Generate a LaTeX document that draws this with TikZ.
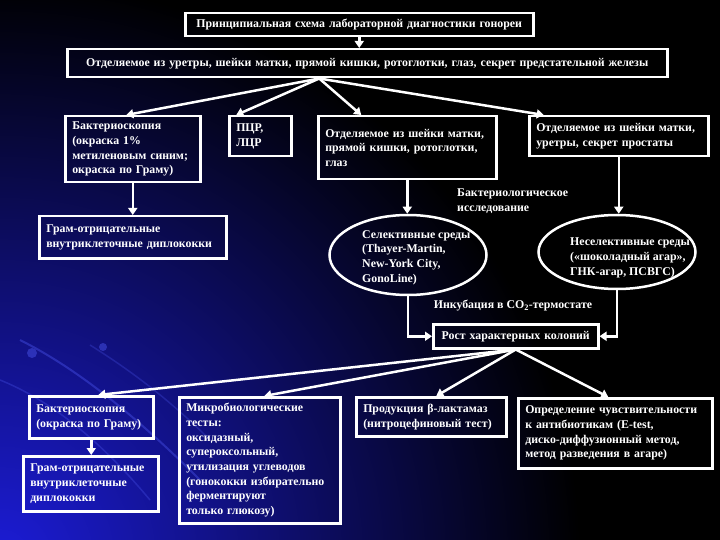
\documentclass[tikz,border=0pt]{standalone}
\usepackage{fontspec}
\setmainfont{Liberation Serif}
\usetikzlibrary{arrows.meta,shapes.geometric,calc}
\definecolor{glowblue}{RGB}{28,28,215}
\definecolor{streak}{RGB}{70,80,230}
\begin{document}
\begin{tikzpicture}[x=1pt,y=-1pt,
  every node/.style={font=\fontsize{11.85}{14.7}\selectfont\bfseries, text=white},
  box/.style={draw=white, line width=2.5pt, anchor=north west, align=left, inner xsep=7pt, inner ysep=3pt},
  cbox/.style={box, align=center},
  arr/.style={draw=white, line width=2.5pt, -{Triangle[width=9pt,length=7pt]}},
  oval/.style={draw=white, line width=2.5pt, ellipse, inner sep=0pt},
  txt/.style={anchor=north west, align=left, inner sep=0pt}]
\useasboundingbox (0,0) rectangle (720,540);
\fill[black] (0,0) rectangle (720,540);
\begin{scope}
  \clip (0,0) rectangle (720,540);
  \shade[inner color=glowblue, outer color=black] (0,560) circle (580);
  \draw[streak, opacity=0.45, line width=2pt] (20,340) .. controls (80,370) and (140,420) .. (200,480);
  \draw[streak, opacity=0.35, line width=1.5pt] (0,380) .. controls (50,400) and (100,440) .. (150,500);
  \draw[streak, opacity=0.3, line width=1.5pt] (90,345) .. controls (130,370) and (170,400) .. (210,440);
  \fill[streak, opacity=0.5] (32,353) circle (5);
  \fill[streak, opacity=0.5] (103,347) circle (4);
\end{scope}

\node[cbox, text width=334pt, minimum height=23pt] (t) at (184,12) {Принципиальная схема лабораторной диагностики гонореи};
\node[cbox, text width=586pt, minimum height=28pt] (b2) at (66,48) {Отделяемое из уретры, шейки матки, прямой кишки, ротоглотки, глаз, секрет предстательной железы};
\node[box, text width=121pt, minimum height=66pt] (b3) at (64,115) {Бактериоскопия\\(окраска 1\%\\метиленовым синим;\\окраска по Граму)};
\node[box, text width=48pt, minimum height=40pt] (b4) at (228,115) {ПЦР,\\ЛЦР};
\node[box, text width=164pt, minimum height=63pt] (b5) at (317,115) {Отделяемое из шейки матки,\\прямой кишки, ротоглотки,\\глаз};
\node[box, text width=165pt, minimum height=40pt] (b6) at (528,115) {Отделяемое из шейки матки,\\уретры, секрет простаты};
\node[box, text width=173pt, minimum height=42pt] (b7) at (38,215) {Грам-отрицательные\\внутриклеточные диплококки};

\node[oval, minimum width=157pt, minimum height=80pt] (e1) at (408,255) {};
\node[txt] (e1t) at (362,230) {Селективные среды\\(Thayer-Martin,\\New-York City,\\GonoLine)};
\node[oval, minimum width=157pt, minimum height=74pt] (e2) at (617,252) {};
\node[txt] (e2t) at (570,238) {Неселективные среды\\(«шоколадный агар»,\\ГНК-агар, ПСВГС)};
\node[txt] (bact) at (457,189) {Бактериологическое\\исследование};
\node[inner sep=0pt] (inc) at (513,306) {Инкубация в CO\textsubscript{2}-термостате};
\node[cbox, text width=151pt, minimum height=24pt] (rost) at (432,323) {Рост характерных колоний};

\node[box, text width=110pt, minimum height=42pt] (b8) at (28,395) {Бактериоскопия\\(окраска по Граму)};
\node[box, text width=121pt, minimum height=55pt] (b9) at (22,455) {Грам-отрицательные\\внутриклеточные\\диплококки};
\node[box, text width=147pt, minimum height=126pt] (b10) at (178,396) {Микробиологические\\тесты:\\оксидазный,\\супероксольный,\\утилизация углеводов\\(гонококки избирательно\\ферментируют\\только глюкозу)};
\node[box, text width=136pt, minimum height=39pt] (b11) at (355,396) {Продукция β-лактамаз\\(нитроцефиновый тест)};
\node[box, text width=180pt, minimum height=70pt] (b12) at (517,397) {Определение чувствительности\\к антибиотикам (E-test,\\диско-диффузионный метод,\\метод разведения в агаре)};

\draw[arr] (t.south) -- (t.south |- b2.north);
\coordinate (s2) at ([xshift=-48pt]b2.south);
\draw[arr] (s2) -- ([xshift=-6.5pt]b3.north);
\draw[arr] (s2) -- ([xshift=-24pt]b4.north);
\draw[arr] (s2) -- ([xshift=-46pt]b5.north);
\draw[arr] (s2) -- ([xshift=-75pt]b6.north);
\draw[arr] (b3.south) -- (b3.south |- b7.north);
\draw[arr] (b5.south) -- (b5.south |- e1.north);
\draw[arr] (b6.south) -- (b6.south |- e2.north);
\draw[arr] (e1.south) |- (rost.west);
\draw[arr] (e2.south) |- (rost.east);
\draw[arr] (rost.south) -- ([xshift=7pt]b8.north);
\draw[arr] (rost.south) -- ([xshift=4.5pt]b10.north);
\draw[arr] (rost.south) -- ([xshift=5pt]b11.north);
\draw[arr] (rost.south) -- ([xshift=-7pt]b12.north);
\draw[arr] (b8.south) -- (b8.south |- b9.north);
\end{tikzpicture}
\end{document}
